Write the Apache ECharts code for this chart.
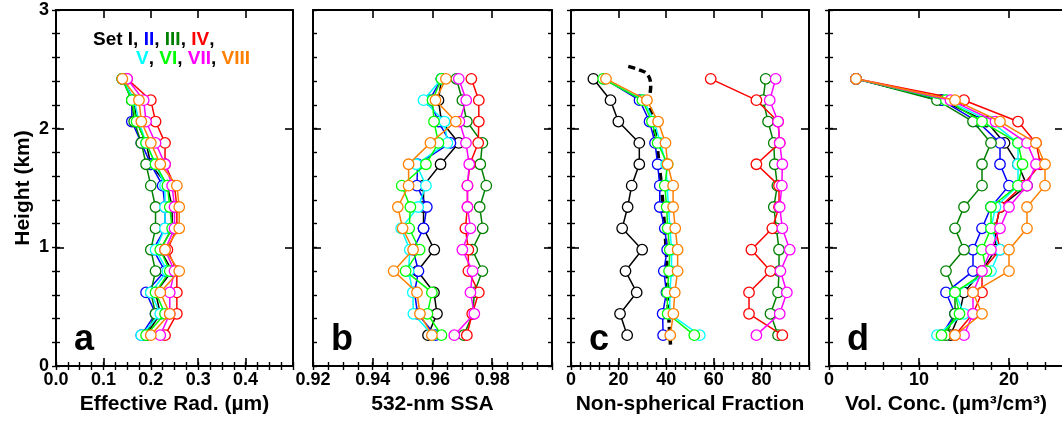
<!DOCTYPE html>
<html>
<head>
<meta charset="utf-8">
<script src="https://cdn.jsdelivr.net/npm/echarts@6/dist/echarts.min.js"></script>
<style>
  html, body { margin: 0; padding: 0; background: #fff; }
  #chart { width: 1062px; height: 422px; }
</style>
</head>
<body>
<div id="chart"></div>
<script>
// Retrieval levels (km), bottom to top
const heights = [0.26, 0.44, 0.62, 0.80, 0.98, 1.16, 1.34, 1.52, 1.70, 1.88, 2.06, 2.24, 2.42];

const setNames = ['I', 'II', 'III', 'IV', 'V', 'VI', 'VII', 'VIII'];
const setColors = ['#000000', '#0000ff', '#008000', '#ff0000', '#00ffff', '#00ff00', '#ff00ff', '#ff8000'];

// (a) effective radius, µm — one row per set I..VIII
const effRadius = [
  [0.19, 0.22, 0.21, 0.245, 0.22, 0.245, 0.245, 0.235, 0.20, 0.19, 0.17, 0.165, 0.14],
  [0.18, 0.21, 0.19, 0.23, 0.205, 0.23, 0.23, 0.225, 0.20, 0.18, 0.16, 0.16, 0.14],
  [0.19, 0.21, 0.20, 0.21, 0.20, 0.21, 0.21, 0.20, 0.19, 0.18, 0.165, 0.16, 0.14],
  [0.23, 0.255, 0.255, 0.255, 0.235, 0.255, 0.255, 0.25, 0.23, 0.23, 0.21, 0.20, 0.15],
  [0.18, 0.22, 0.20, 0.235, 0.21, 0.23, 0.23, 0.23, 0.21, 0.19, 0.175, 0.165, 0.14],
  [0.19, 0.23, 0.21, 0.24, 0.22, 0.245, 0.24, 0.235, 0.21, 0.19, 0.17, 0.16, 0.14],
  [0.22, 0.24, 0.24, 0.25, 0.23, 0.25, 0.25, 0.245, 0.23, 0.21, 0.19, 0.185, 0.15],
  [0.20, 0.24, 0.22, 0.26, 0.23, 0.26, 0.26, 0.255, 0.22, 0.20, 0.18, 0.175, 0.14]
];

// (b) single-scattering albedo at 532 nm
const ssa532 = [
  [0.9585, 0.9615, 0.9605, 0.955, 0.9606, 0.957, 0.957, 0.957, 0.9627, 0.9688, 0.963, 0.962, 0.963],
  [0.961, 0.955, 0.954, 0.9553, 0.9535, 0.957, 0.9581, 0.9548, 0.955, 0.966, 0.962, 0.959, 0.963],
  [0.9705, 0.9735, 0.974, 0.9767, 0.9733, 0.9768, 0.9758, 0.978, 0.976, 0.9767, 0.9715, 0.970, 0.968],
  [0.9715, 0.9733, 0.9755, 0.972, 0.972, 0.971, 0.9717, 0.9717, 0.9725, 0.9753, 0.9755, 0.9755, 0.973],
  [0.960, 0.9536, 0.9534, 0.952, 0.9524, 0.9495, 0.9552, 0.9578, 0.9546, 0.965, 0.964, 0.957, 0.963],
  [0.963, 0.9583, 0.9598, 0.951, 0.9557, 0.9522, 0.9526, 0.9497, 0.9578, 0.962, 0.9605, 0.960, 0.963],
  [0.9673, 0.974, 0.9727, 0.9734, 0.970, 0.9727, 0.9717, 0.9717, 0.9723, 0.9712, 0.969, 0.9713, 0.9688],
  [0.9598, 0.9558, 0.9548, 0.947, 0.9535, 0.950, 0.9484, 0.952, 0.952, 0.9593, 0.9678, 0.961, 0.9645]
];

// (c) non-spherical fraction, %
const nonSph = [
  [23.6, 20.6, 27.6, 22.9, 29.9, 21.5, 23.8, 25.5, 28.7, 28.7, 19.9, 16.6, 9.4],
  [38.7, 38.5, 40.1, 39.0, 40.4, 39.4, 37.3, 37.3, 36.4, 35.3, 33.0, 28.8, 14.0],
  [87.0, 83.8, 87.0, 87.4, 87.4, 86.3, 85.2, 86.7, 85.6, 85.2, 82.8, 80.7, 81.8],
  [88.8, 74.8, 74.8, 83.8, 75.8, 84.6, 87.4, 87.4, 77.9, 87.7, 87.0, 77.9, 58.7],
  [54.1, 41.5, 41.5, 42.2, 42.3, 41.5, 41.0, 40.3, 40.0, 37.5, 35.0, 30.5, 14.0],
  [51.8, 40.6, 40.4, 41.2, 41.5, 40.6, 40.2, 39.4, 40.6, 36.4, 34.0, 30.0, 13.5],
  [77.9, 87.7, 90.7, 88.0, 91.9, 88.8, 87.7, 88.6, 88.8, 87.7, 87.0, 83.5, 86.0],
  [41.7, 43.0, 43.6, 44.8, 44.8, 43.8, 42.9, 42.9, 40.6, 39.7, 36.6, 31.9, 14.7]
];
// (c) reference profile drawn as a dashed curve
const refFraction = [41.8, 41.0, 40.5, 40.0, 39.0, 38.0, 37.0, 36.0, 34.5, 33.0, 33.5, 32.0, 28.0, 23.0];
const refHeight   = [0.18, 0.44, 0.70, 0.98, 1.25, 1.52, 1.70, 1.88, 2.06, 2.24, 2.36, 2.46, 2.50, 2.53];

// (d) volume concentration, µm³/cm³
const volConc = [
  [13.5, 14.5, 15.0, 17.0, 18.5, 18.5, 19.0, 22.0, 21.0, 19.5, 17.5, 12.5, 3.0],
  [12.5, 14.0, 13.0, 16.0, 16.0, 17.0, 18.0, 20.0, 19.0, 19.0, 16.5, 12.5, 3.0],
  [13.0, 14.0, 14.0, 13.0, 15.0, 14.0, 15.0, 17.0, 17.0, 18.0, 16.0, 12.0, 3.0],
  [14.0, 16.0, 17.0, 17.0, 19.0, 18.5, 19.0, 21.5, 23.5, 23.0, 21.0, 15.0, 3.0],
  [12.0, 15.0, 14.0, 18.0, 19.0, 18.0, 18.5, 21.0, 21.0, 21.0, 18.0, 13.0, 3.0],
  [12.5, 14.5, 14.0, 17.5, 17.0, 18.0, 18.0, 21.0, 21.5, 21.0, 17.0, 13.0, 3.0],
  [15.0, 16.0, 16.0, 17.0, 18.0, 19.0, 20.0, 22.0, 23.0, 22.0, 18.5, 13.5, 3.0],
  [14.0, 17.0, 16.0, 20.0, 20.0, 22.0, 22.0, 24.0, 24.0, 23.0, 19.0, 14.0, 3.0]
];

// Height axis ticks
const heightTicks = { min: 0, max: 3, major: 1, minor: 0.2 };

const FONT = '"Liberation Sans", Arial, Helvetica, sans-serif';

const panels = [
  { letter: 'a', values: effRadius, min: 0, max: 0.5, major: 0.1, minor: 0.025, digits: 1,
    name: 'Effective Rad. (µm)', left: 56, width: 237 },
  { letter: 'b', values: ssa532, min: 0.92, max: 1.0, major: 0.02, minor: 0.005, digits: 2,
    name: '532-nm SSA', left: 313, width: 239 },
  { letter: 'c', values: nonSph, min: 0, max: 100, major: 20, minor: 4, digits: 0,
    name: 'Non-spherical Fraction', left: 571, width: 238 },
  { letter: 'd', values: volConc, min: 0, max: 26, major: 10, minor: 2, digits: 0,
    name: 'Vol. Conc. (µm³/cm³)', left: 829, width: 234 }
];

const GRID_TOP = 10, GRID_H = 356;
const frameLine = { show: true, onZero: false, lineStyle: { color: '#000', width: 2 } };
const majorTick = { show: true, inside: true, length: 8, lineStyle: { color: '#000', width: 1.6 } };
const minorTickStyle = { show: true, inside: true, length: 4, lineStyle: { color: '#000', width: 1.4 } };
const labelFont = { color: '#000', fontSize: 18, fontWeight: 'bold', fontFamily: FONT };
const nameFont = { color: '#000', fontSize: 21, fontWeight: 'bold', fontFamily: FONT };

const grids = [], xAxes = [], yAxes = [], series = [];

panels.forEach((p, g) => {
  grids.push({ left: p.left, top: GRID_TOP, width: p.width, height: GRID_H, show: false, containLabel: false, outerBoundsMode: 'none' });

  const xb = { gridIndex: g, type: 'value', min: p.min, max: p.max, splitLine: { show: false }, axisPointer: { show: false } };
  xAxes.push(
    Object.assign({}, xb, {
      position: 'bottom', interval: p.major, axisLine: frameLine, axisTick: majorTick,
      axisLabel: Object.assign({ show: true, margin: 5, showMinLabel: true, showMaxLabel: false,
        formatter: v => Number(v).toFixed(p.digits) }, labelFont),
      name: p.name, nameLocation: 'middle', nameGap: 27, nameTextStyle: nameFont
    }),
    Object.assign({}, xb, { position: 'bottom', interval: p.minor, axisLine: { show: false }, axisTick: minorTickStyle, axisLabel: { show: false } }),
    Object.assign({}, xb, { position: 'top', interval: p.major, axisLine: frameLine, axisTick: majorTick, axisLabel: { show: false } }),
    Object.assign({}, xb, { position: 'top', interval: p.minor, axisLine: { show: false }, axisTick: minorTickStyle, axisLabel: { show: false } })
  );

  const yb = { gridIndex: g, type: 'value', min: heightTicks.min, max: heightTicks.max, splitLine: { show: false }, axisPointer: { show: false } };
  const first = g === 0;
  yAxes.push(
    Object.assign({}, yb, {
      position: 'left', interval: heightTicks.major, axisLine: frameLine, axisTick: majorTick,
      axisLabel: Object.assign({ show: first, margin: 7 }, labelFont),
      name: first ? 'Height (km)' : '', nameLocation: 'middle', nameGap: 22, nameRotate: 90, nameTextStyle: nameFont
    }),
    Object.assign({}, yb, { position: 'left', interval: heightTicks.minor, axisLine: { show: false }, axisTick: minorTickStyle, axisLabel: { show: false } }),
    Object.assign({}, yb, { position: 'right', interval: heightTicks.major, axisLine: frameLine, axisTick: majorTick, axisLabel: { show: false } }),
    Object.assign({}, yb, { position: 'right', interval: heightTicks.minor, axisLine: { show: false }, axisTick: minorTickStyle, axisLabel: { show: false } })
  );

  if (p.letter === 'c') {
    series.push({
      type: 'line', name: 'reference', xAxisIndex: g * 4, yAxisIndex: g * 4,
      data: refFraction.map((x, i) => [x, refHeight[i]]),
      smooth: 0.4, showSymbol: false, symbol: 'none',
      lineStyle: { color: '#000', width: 3.5, type: [7, 4] }, z: 1, silent: true
    });
  }

  p.values.forEach((row, s) => {
    series.push({
      type: 'line', name: 'Set ' + setNames[s], xAxisIndex: g * 4, yAxisIndex: g * 4,
      data: row.map((x, i) => [x, heights[i]]),
      symbol: 'circle', symbolSize: 10.5, showSymbol: true,
      lineStyle: { color: setColors[s], width: 1.5 },
      itemStyle: { color: '#fff', borderColor: setColors[s], borderWidth: 1.3 },
      z: 2 + s, silent: true
    });
  });
});

// legend text: "Set I, II, III, IV, / V, VI, VII, VIII" coloured per set
const rich = { k: { fill: '#000', font: 'bold 19px ' + FONT } };
setNames.forEach((n, i) => { rich['s' + i] = { fill: setColors[i], font: 'bold 19px ' + FONT }; });
const row1 = '{k|Set }' + [0, 1, 2, 3].map(i => '{s' + i + '|' + setNames[i] + '}').join('{k|, }') + '{k|,}';
const row2 = [4, 5, 6, 7].map(i => '{s' + i + '|' + setNames[i] + '}').join('{k|, }');

const graphics = [
  { type: 'text', left: 93, top: 30, style: { text: row1, rich: rich, font: 'bold 19px ' + FONT } },
  { type: 'text', left: 136, top: 49, style: { text: row2, rich: rich, font: 'bold 19px ' + FONT } }
];
panels.forEach(p => {
  graphics.push({
    type: 'text', left: p.left + 18, top: 322,
    style: { text: p.letter, fill: '#000', font: 'bold 36px ' + FONT }
  });
});

const chart = echarts.init(document.getElementById('chart'), null, { renderer: 'canvas' });
chart.setOption({
  backgroundColor: '#ffffff',
  animation: false,
  grid: grids,
  xAxis: xAxes,
  yAxis: yAxes,
  series: series,
  graphic: graphics
});
</script>
</body>
</html>
